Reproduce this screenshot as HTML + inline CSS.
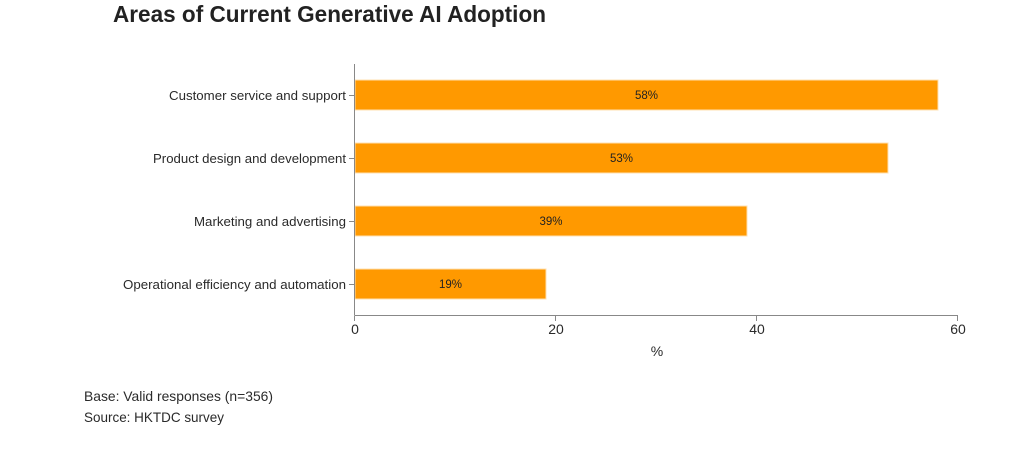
<!DOCTYPE html>
<html>
<head>
<meta charset="utf-8">
<style>
  html, body { margin: 0; padding: 0; background: #ffffff; }
  body { width: 1021px; height: 449px; overflow: hidden; }
  svg { display: block; font-family: "Liberation Sans", Arial, sans-serif; }
</style>
</head>
<body>
<svg width="1021" height="449" viewBox="0 0 1021 449" xmlns="http://www.w3.org/2000/svg">
  <rect x="0" y="0" width="1021" height="449" fill="#ffffff"/>

  <!-- Title -->
  <text x="113" y="22" font-size="23" font-weight="bold" fill="#222222" textLength="433" lengthAdjust="spacingAndGlyphs">Areas of Current Generative AI Adoption</text>

  <!-- Bars -->
  <g fill="#FF9900" stroke="#ffe0b0" stroke-width="1">
    <rect x="355" y="80" width="583" height="30"/>
    <rect x="355" y="143" width="533" height="30"/>
    <rect x="355" y="206" width="392" height="30"/>
    <rect x="355" y="269" width="191" height="30"/>
  </g>

  <!-- Bar value labels -->
  <g font-size="11.5" fill="#222222" text-anchor="middle">
    <text x="646.5" y="99">58%</text>
    <text x="621.5" y="162">53%</text>
    <text x="551" y="225">39%</text>
    <text x="450.5" y="288">19%</text>
  </g>

  <!-- Y axis -->
  <line x1="354.5" y1="64" x2="354.5" y2="315" stroke="#888888" stroke-width="1"/>
  <g stroke="#888888" stroke-width="1">
    <line x1="349" y1="95.5" x2="354.5" y2="95.5"/>
    <line x1="349" y1="158.5" x2="354.5" y2="158.5"/>
    <line x1="349" y1="221.5" x2="354.5" y2="221.5"/>
    <line x1="349" y1="284.5" x2="354.5" y2="284.5"/>
  </g>
  <g font-size="12.5" fill="#2a2a2a">
    <text x="169" y="100" textLength="177" lengthAdjust="spacingAndGlyphs">Customer service and support</text>
    <text x="153" y="163" textLength="193" lengthAdjust="spacingAndGlyphs">Product design and development</text>
    <text x="194" y="226" textLength="152" lengthAdjust="spacingAndGlyphs">Marketing and advertising</text>
    <text x="123" y="289" textLength="223" lengthAdjust="spacingAndGlyphs">Operational efficiency and automation</text>
  </g>

  <!-- X axis -->
  <line x1="354.5" y1="315.5" x2="958" y2="315.5" stroke="#888888" stroke-width="1"/>
  <g stroke="#888888" stroke-width="1">
    <line x1="354.5" y1="315.5" x2="354.5" y2="321"/>
    <line x1="555.5" y1="315.5" x2="555.5" y2="321"/>
    <line x1="756.5" y1="315.5" x2="756.5" y2="321"/>
    <line x1="957.5" y1="315.5" x2="957.5" y2="321"/>
  </g>
  <g font-size="14" fill="#2a2a2a" text-anchor="middle">
    <text x="355" y="334">0</text>
    <text x="556" y="334">20</text>
    <text x="757" y="334">40</text>
    <text x="958" y="334">60</text>
    <text x="657" y="356">%</text>
  </g>

  <!-- Footer -->
  <g font-size="14" fill="#2a2a2a">
    <text x="84" y="401" textLength="189" lengthAdjust="spacingAndGlyphs">Base: Valid responses (n=356)</text>
    <text x="84" y="422" textLength="140" lengthAdjust="spacingAndGlyphs">Source: HKTDC survey</text>
  </g>
</svg>
</body>
</html>
